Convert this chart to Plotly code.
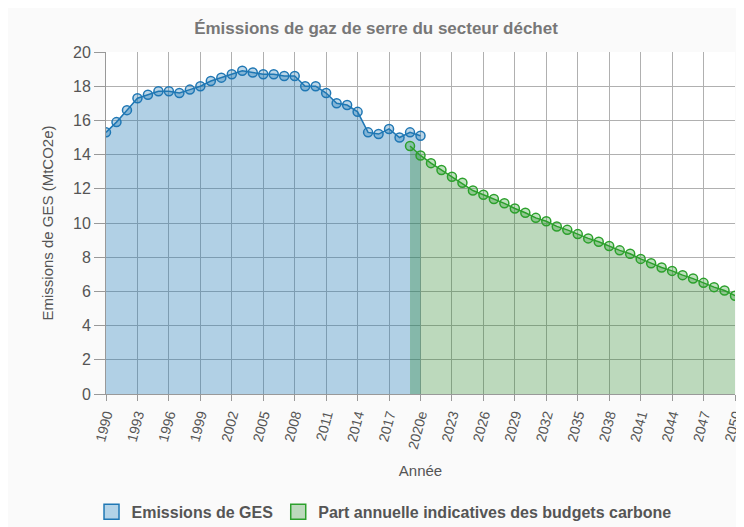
import plotly.graph_objects as go

# historic emissions (MtCO2e), 1990 -> 2020e
years_hist = list(range(1990, 2021))
emissions = [15.3, 15.9, 16.6, 17.3, 17.5, 17.7, 17.7, 17.6, 17.8, 18.0,
             18.3, 18.5, 18.7, 18.9, 18.8, 18.7, 18.7, 18.6, 18.6, 18.0,
             18.0, 17.6, 17.0, 16.9, 16.5, 15.3, 15.2, 15.5, 15.0, 15.3,
             15.1]

# indicative annual share of carbon budgets, 2019 -> 2050
years_budget = list(range(2019, 2051))
budget = [14.5, 13.95, 13.5, 13.1, 12.7, 12.35, 11.9, 11.65, 11.4, 11.15,
          10.85, 10.6, 10.3, 10.1, 9.8, 9.6, 9.35, 9.1, 8.9, 8.65,
          8.4, 8.2, 7.9, 7.65, 7.4, 7.2, 6.95, 6.75, 6.5, 6.25,
          6.05, 5.75]

tick_years = list(range(1990, 2051, 3))
tick_labels = [str(y) + ("e" if y == 2020 else "") for y in tick_years]

blue = "#1f77b4"
green = "#2ca02c"
font = "Liberation Sans, Arial, sans-serif"

fig = go.Figure()
fig.add_trace(go.Scatter(
    x=years_hist, y=emissions, mode="lines+markers", fill="tozeroy",
    fillcolor="rgba(31,119,180,0.35)", line=dict(color=blue, width=1.5),
    marker=dict(size=9, color="rgba(31,119,180,0.3)", line=dict(color=blue, width=1.5)),
    showlegend=False))
fig.add_trace(go.Scatter(
    x=years_budget, y=budget, mode="lines+markers", fill="tozeroy",
    fillcolor="rgba(32,128,32,0.3)", line=dict(color=green, width=1.5),
    marker=dict(size=9, color="rgba(44,160,44,0.3)", line=dict(color=green, width=1.5)),
    showlegend=False))

# legend swatches
fig.add_trace(go.Scatter(x=[None], y=[None], mode="markers", name="<b>Emissions de GES</b>",
                         marker=dict(symbol="square", size=15, color="#b3d3e8",
                                     line=dict(color=blue, width=1.5))))
fig.add_trace(go.Scatter(x=[None], y=[None], mode="markers",
                         name="<b>Part annuelle indicatives des budgets carbone</b>",
                         marker=dict(symbol="square", size=15, color="#bcd9bc",
                                     line=dict(color=green, width=1.5))))

# page has an 8px body margin, so the figure is sized to fit inside it
fig.update_layout(
    width=736, height=519,
    margin=dict(l=98, r=9, t=44, b=133),
    paper_bgcolor="#fafafa", plot_bgcolor="white",
    font=dict(family=font, color="#555555", size=15),
    title=dict(text="<b>Émissions de gaz de serre du secteur déchet</b>", x=0.5, xanchor="center",
               y=0.9615, yanchor="middle", font=dict(size=17, color="#777777")),
    legend=dict(orientation="h", x=0.442, xanchor="center",
                yref="container", y=0.029, yanchor="middle",
                font=dict(size=16, color="#555555"), itemwidth=30,
                bgcolor="rgba(0,0,0,0)"),
    xaxis=dict(range=[1990, 2050], tickvals=tick_years, ticktext=tick_labels,
               tickangle=-75, showgrid=True, gridcolor="#b0b0b0", gridwidth=1,
               showline=True, linecolor="#999999", ticks="outside", ticklen=6,
               tickcolor="#999999", zeroline=False, automargin=False,
               ticklabeloverflow="allow", tickfont=dict(size=14),
               title=dict(text="Année", font=dict(size=15))),
    yaxis=dict(range=[0, 20], dtick=2, showgrid=True, gridcolor="#b0b0b0", gridwidth=1,
               showline=True, linecolor="#999999", ticks="outside", ticklen=11,
               tickcolor="#999999", zeroline=False, automargin=False,
               tickfont=dict(size=16),
               title=dict(text="Emissions de GES (MtCO2e)", font=dict(size=15))),
)

fig.write_html("out.html")
